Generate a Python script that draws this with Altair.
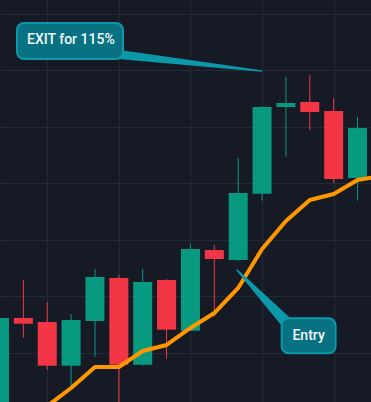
import altair as alt
import pandas as pd

# ---- candle data (index, OHLC in price units) ----
idx    = list(range(16))
opens  = [86.3, 106.11, 105.40, 97.66, 105.58, 113.19, 97.84, 112.83, 103.86, 118.14, 116.37, 128.11, 143.45, 144.34, 142.74, 130.88]
closes = [106.1, 105.10, 97.66, 105.75, 113.36, 97.84, 112.48, 104.04, 118.32, 116.55, 128.23, 143.45, 144.16, 142.57, 130.71, 139.73]
highs  = [106.2, 112.83, 108.94, 106.81, 114.78, 113.72, 114.78, 113.01, 119.20, 119.03, 134.42, 143.63, 148.76, 149.12, 145.04, 141.68]
lows   = [85.0, 102.62, 96.96, 93.66, 99.26, 90.71, 97.66, 98.90, 103.80, 106.34, 116.19, 126.87, 134.65, 139.38, 130.00, 126.87]

# ---- moving average line ----
ma_idx = list(range(17))
ma_val = [83.63, 87.17, 90.53, 93.72, 97.43, 97.43, 100.27, 101.33, 104.34, 106.99, 111.42, 118.32, 123.27, 126.99, 128.05, 130.53, 131.24]

# ---- gridlines ----
grid_x = [2, 5, 8, 11, 14]
grid_y = [100, 110, 120, 130, 140, 150, 160]

# ---- callouts ----
box_labels = ["EXIT for 115%", "Entry"]
box_x1 = [0.733, 11.82]
box_x2 = [5.174, 14.08]
box_y1 = [158.32, 106.05]
box_y2 = [151.95, 99.86]
text_x = [2.99, 12.95]
text_y = [155.31, 102.97]
ptr_id = ["exit", "exit", "entry", "entry"]
ptr_ord = [0, 1, 0, 1]
ptr_x = [5.01, 10.98, 12.09, 9.95]
ptr_y = [152.74, 149.82, 105.04, 114.60]
ptr_w = [9, 1.5, 12, 1.5]

BG = "#161a25"
GRID = "#252935"
GREEN = "#089981"
RED = "#f23645"
ORANGE = "#ff9800"
BOX_FILL = "#087282"
BOX_EDGE = "#0b98aa"

candles = pd.DataFrame({"i": idx, "open": opens, "close": closes, "high": highs, "low": lows})
candles["dir"] = ["up" if c >= o else "down" for o, c in zip(opens, closes)]
ma = pd.DataFrame({"i": ma_idx, "v": ma_val})
boxes = pd.DataFrame({"label": box_labels, "x1": box_x1, "x2": box_x2, "y1": box_y1, "y2": box_y2, "tx": text_x, "ty": text_y})
ptr = pd.DataFrame({"id": ptr_id, "o": ptr_ord, "x": ptr_x, "y": ptr_y, "w": ptr_w})

xs = alt.Scale(domain=[0.021, 15.564], nice=False, zero=False, padding=0)
ys = alt.Scale(domain=[91.24, 162.39], nice=False, zero=False, padding=0)
color = alt.Color("dir:N", scale=alt.Scale(domain=["up", "down"], range=[GREEN, RED]), legend=None)

xax = alt.Axis(values=grid_x, grid=True, gridColor=GRID, gridWidth=1, labels=False, ticks=False, domain=False, title=None)
yax = alt.Axis(values=grid_y, grid=True, gridColor=GRID, gridWidth=1, labels=False, ticks=False, domain=False, title=None)

base = alt.Chart(candles)
wicks = base.mark_rule(strokeWidth=1, clip=True).encode(
    x=alt.X("i:Q", scale=xs, axis=xax),
    y=alt.Y("low:Q", scale=ys, axis=yax),
    y2="high:Q",
    color=color,
)
bodies = base.mark_bar(size=19, clip=True).encode(
    x=alt.X("i:Q", scale=xs),
    y=alt.Y("open:Q", scale=ys),
    y2="close:Q",
    color=color,
)
line = alt.Chart(ma).mark_line(color=ORANGE, strokeWidth=4, clip=True, strokeJoin="round").encode(
    x=alt.X("i:Q", scale=xs),
    y=alt.Y("v:Q", scale=ys),
)
pointers = alt.Chart(ptr).mark_trail(color=BOX_EDGE, clip=True).encode(
    x=alt.X("x:Q", scale=xs),
    y=alt.Y("y:Q", scale=ys),
    size=alt.Size("w:Q", scale=None),
    detail="id:N",
    order="o:Q",
)
rects = alt.Chart(boxes).mark_rect(fill=BOX_FILL, stroke=BOX_EDGE, strokeWidth=2, cornerRadius=7).encode(
    x=alt.X("x1:Q", scale=xs),
    x2="x2:Q",
    y=alt.Y("y1:Q", scale=ys),
    y2="y2:Q",
)
texts = alt.Chart(boxes).mark_text(font="Roboto", fontSize=14, fontWeight=500, color="#f2f8f9", baseline="middle", align="center").encode(
    x=alt.X("tx:Q", scale=xs),
    y=alt.Y("ty:Q", scale=ys),
    text="label:N",
)

chart = alt.layer(wicks, bodies, line, pointers, rects, texts).properties(
    width=371, height=402, padding=0, background=BG,
    autosize=alt.AutoSizeParams(type="none"),
).configure_view(stroke=None, fill=BG)

chart.save("out.html", embed_options={"renderer": "svg", "actions": False})
